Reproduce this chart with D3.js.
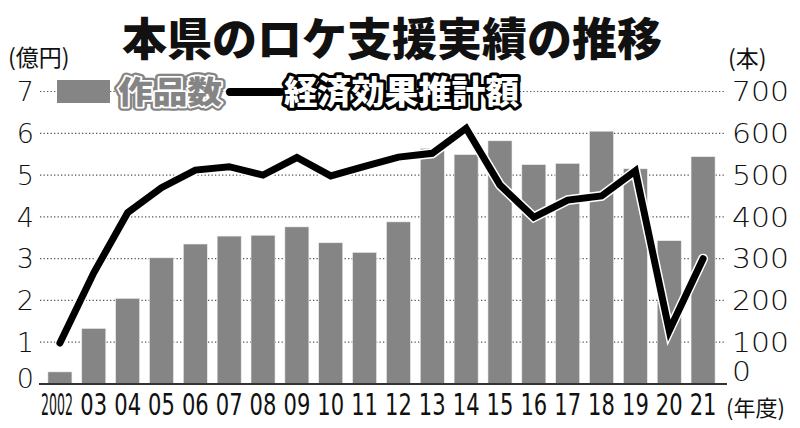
<!DOCTYPE html>
<html><head><meta charset="utf-8">
<script src="https://cdn.jsdelivr.net/npm/d3@7"></script>
<style>
body{margin:0;background:#fff;}
svg{display:block;}
</style></head>
<body>
<svg id="c" width="800" height="428"></svg>
<script>
const years = ["2002","03","04","05","06","07","08","09","10","11","12","13","14","15","16","17","18","19","20","21"];
const works = [29,133,205,302,335,354,356,376,338,315,388,564,549,582,525,528,605,515,343,544];
const effect = [0.98,2.66,4.10,4.70,5.12,5.20,5.00,5.42,4.98,5.21,5.43,5.52,6.12,4.76,3.99,4.40,4.50,5.10,1.28,3.00];
const leftTicks = [0,1,2,3,4,5,6,7];
const rightTicks = [0,100,200,300,400,500,600,700];
const title = "本県のロケ支援実績の推移";

const svg = d3.select("#c");
const x = d3.scaleBand().domain(years).range([43,720]).paddingInner(0.29).paddingOuter(0.145);
const yL = d3.scaleLinear().domain([0,7]).range([384,91.5]);
const yR = d3.scaleLinear().domain([0,700]).range([384,91.5]);

const numFont = "'DejaVu Sans', sans-serif";
const jpFont = "'Noto Sans CJK JP', sans-serif";

// title
svg.append("text").attr("x",392).attr("y",56).attr("text-anchor","middle")
  .attr("font-family",jpFont).attr("font-weight",900).attr("font-size",45)
  .attr("fill","#111").text(title);

// unit labels
svg.append("text").attr("x",8).attr("y",66).attr("font-family",jpFont)
  .attr("font-size",23).attr("fill","#111").text("(億円)");
svg.append("text").attr("x",728).attr("y",67).attr("font-family",jpFont)
  .attr("font-size",23).attr("fill","#111").text("(本)");

// gridlines
svg.append("g").selectAll("line").data(leftTicks.filter(d=>d>0)).join("line")
  .attr("x1",40).attr("x2",725).attr("y1",d=>yL(d)).attr("y2",d=>yL(d))
  .attr("stroke","#555").attr("stroke-width",1.2).attr("stroke-dasharray","1.3,2.2");

// left axis labels
svg.append("g").selectAll("text").data(leftTicks).join("text")
  .attr("x",34).attr("y",d=>yL(d) + (d===0?-6:0)).attr("dy","0.36em")
  .attr("text-anchor","end").attr("font-family",numFont).attr("font-weight",300)
  .attr("font-size",27).attr("fill","#111").text(d=>d);

// right axis labels
svg.append("g").selectAll("text").data(rightTicks).join("text")
  .attr("x",732).attr("y",d=>yR(d) + (d===0?-13:0)).attr("dy","0.36em")
  .attr("text-anchor","start").attr("font-family",numFont).attr("font-weight",300)
  .attr("font-size",27).attr("fill","#111")
  .attr("textLength",d=>String(d).length*19).attr("lengthAdjust","spacingAndGlyphs")
  .text(d=>d);

// bars
svg.append("g").selectAll("rect").data(years).join("rect")
  .attr("x",d=>x(d)).attr("width",x.bandwidth())
  .attr("y",(d,i)=>yR(works[i])).attr("height",(d,i)=>yR(0)-yR(works[i]))
  .attr("fill","#858585").attr("stroke","#eee").attr("stroke-width",0.6);

// baseline
svg.append("line").attr("x1",39).attr("x2",727).attr("y1",384).attr("y2",384)
  .attr("stroke","#333").attr("stroke-width",2);

// line
const line = d3.line().x((d,i)=>x(years[i])+x.bandwidth()/2).y(d=>yL(d));
svg.append("path").datum(effect).attr("d",line).attr("fill","none")
  .attr("stroke","#fff").attr("stroke-width",10).attr("stroke-linejoin","miter").attr("stroke-linecap","round");
svg.append("path").datum(effect).attr("d",line).attr("fill","none")
  .attr("stroke","#000").attr("stroke-width",7).attr("stroke-linejoin","miter").attr("stroke-linecap","round");

// x labels (condensed via horizontal scaling)
svg.append("g").selectAll("text").data(years).join("text")
  .attr("transform",d=>`translate(${x(d)+x.bandwidth()/2 - (d==="2002"?3:0)},415) scale(${d.length===4?0.405:0.68},1)`)
  .attr("text-anchor","middle").attr("font-family",numFont).attr("font-size",31)
  .attr("fill","#111")
  .text(d=>d);
svg.append("text").attr("x",726).attr("y",416).attr("font-family",jpFont)
  .attr("font-size",22).attr("fill","#111").text("(年度)");

// legend
svg.append("rect").attr("x",57).attr("y",80).attr("width",53).attr("height",23).attr("fill","#858585");
const lg1 = svg.append("g");
lg1.append("text").attr("x",118).attr("y",103).attr("font-family",jpFont).attr("font-weight",900)
  .attr("font-size",31).attr("fill","none").attr("stroke","#858585").attr("stroke-width",8)
  .attr("stroke-linejoin","round").attr("textLength",104).attr("lengthAdjust","spacingAndGlyphs").text("作品数");
lg1.append("text").attr("x",118).attr("y",103).attr("font-family",jpFont).attr("font-weight",900)
  .attr("font-size",31).attr("fill","#858585").attr("stroke","#fff").attr("stroke-width",3.5)
  .attr("paint-order","stroke").attr("stroke-linejoin","round")
  .attr("textLength",104).attr("lengthAdjust","spacingAndGlyphs").text("作品数");
svg.append("line").attr("x1",230).attr("x2",280).attr("y1",92).attr("y2",92)
  .attr("stroke","#000").attr("stroke-width",8).attr("stroke-linecap","round");
svg.append("text").attr("x",284).attr("y",104).attr("font-family",jpFont).attr("font-weight",900)
  .attr("font-size",33).attr("fill","#fff").attr("stroke","#000").attr("stroke-width",6)
  .attr("paint-order","stroke").attr("stroke-linejoin","round")
  .attr("textLength",235).attr("lengthAdjust","spacingAndGlyphs").text("経済効果推計額");
</script>
</body></html>
